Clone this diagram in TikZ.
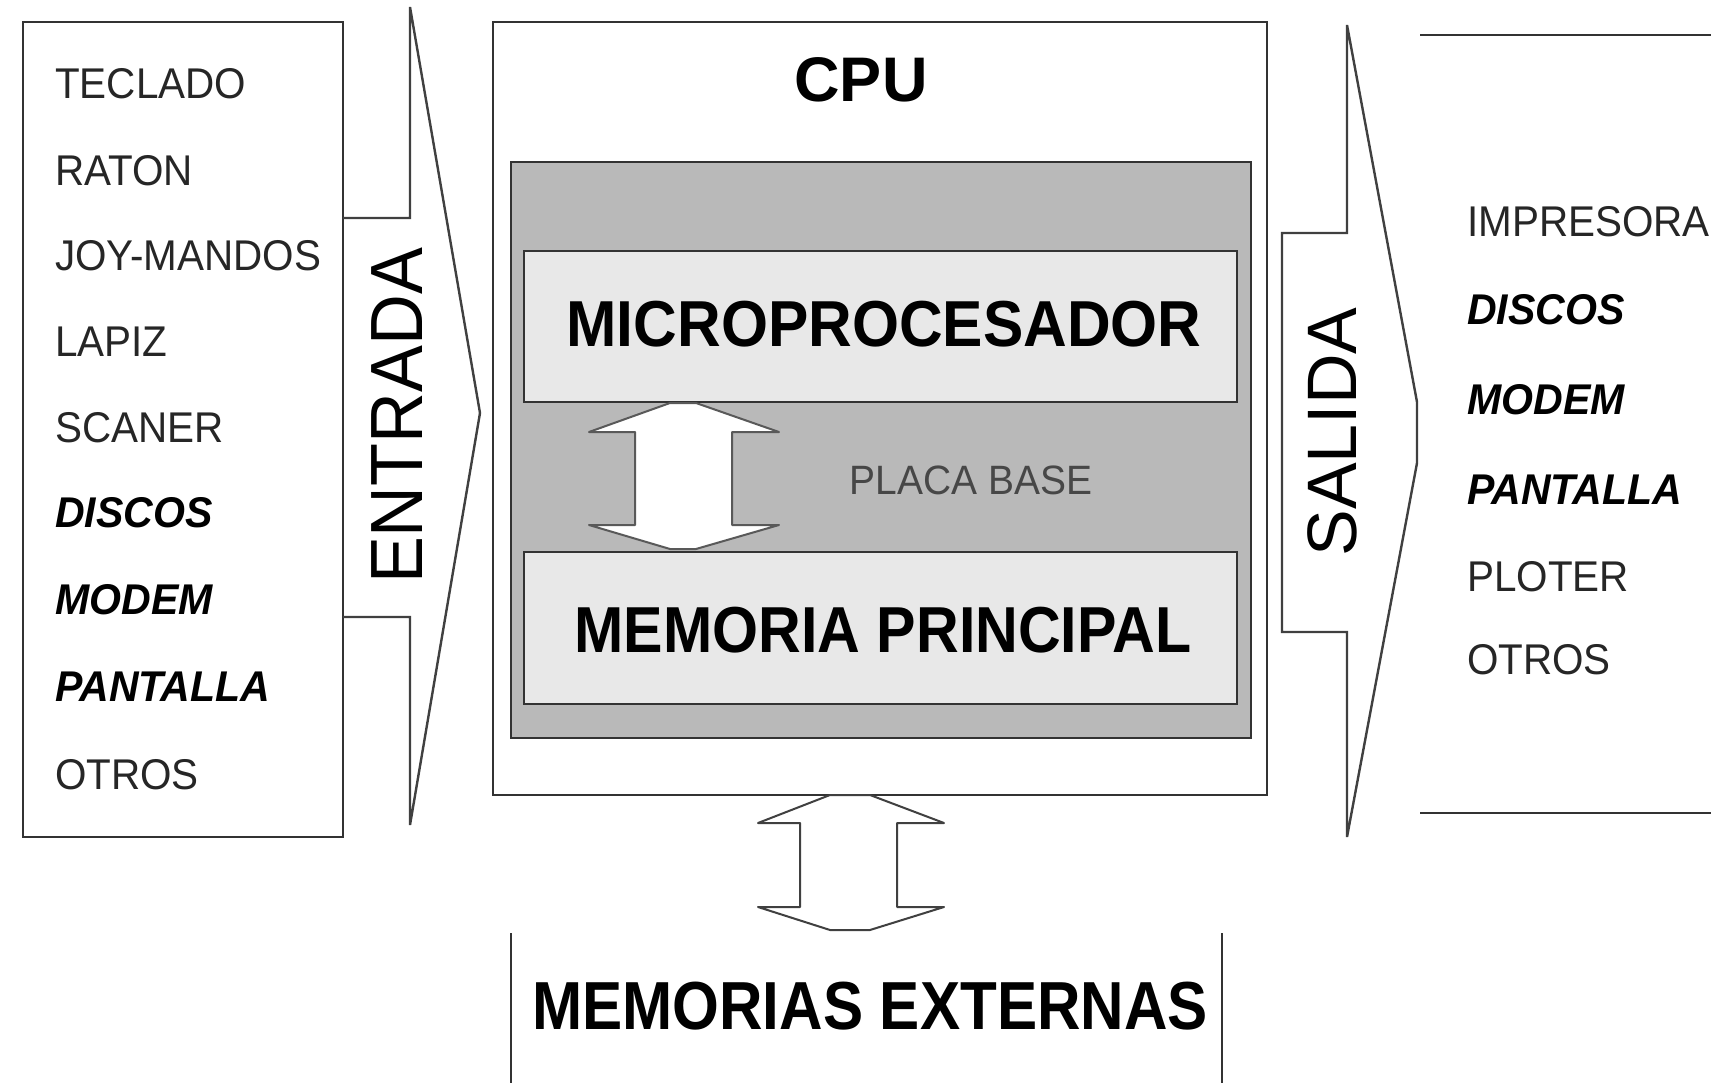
\documentclass[tikz,border=0pt]{standalone}
\usepackage{fontspec}
\setmainfont{Liberation Sans}
\newfontfamily\lst[FakeStretch=0.94]{Liberation Sans}
\newfontfamily\lstb[FakeStretch=0.955]{Liberation Sans}
\newfontfamily\ttl[FakeStretch=0.91]{Liberation Sans}
\newfontfamily\ext[FakeStretch=0.885]{Liberation Sans}
\newfontfamily\pb[FakeStretch=0.95]{Liberation Sans}
\begin{document}
\begin{tikzpicture}[x=1pt,y=-1pt,
  boxline/.style={draw=black!80, line width=2.6pt},
  rect/.style={boxline, anchor=north west, inner sep=0pt, outer sep=0pt},
  arr/.style={draw=black!75, line width=2.4pt},
  dbl/.style={draw=black!65, line width=2pt, fill=white, line join=round},
  item/.style={anchor=west, inner sep=0pt, text=black!85, font=\lst\fontsize{43}{45}\selectfont},
  itemb/.style={anchor=west, inner sep=0pt, text=black, font=\lstb\fontsize{43}{45}\selectfont\bfseries\itshape},
  title/.style={inner sep=0pt, text=black, font=\ttl\fontsize{65}{70}\selectfont\bfseries},
  side/.style={rotate=90, inner sep=0pt, text=black}]
\useasboundingbox (0,0) rectangle (1711,1083);
\fill[white] (0,0) rectangle (1711,1083);

% input box
\node[rect, minimum width=320pt, minimum height=815pt] (inbox) at (23,22) {};
\foreach \t/\yy/\n in {TECLADO/84/a,RATON/171/b,JOY-MANDOS/256/c,LAPIZ/342/d,SCANER/428/e,OTROS/775/i}
  \node[item] (in\n) at (55,\yy) {\t};
\foreach \t/\yy/\n in {DISCOS/513/f,MODEM/600/g,PANTALLA/687/h}
  \node[itemb] (in\n) at (55,\yy) {\t};

% entrada arrow
\draw[arr] (343,218) -- (410,218) -- (410,7) -- (480,413) -- (410,825) -- (410,617) -- (343,617);
\node[side, font=\pb\fontsize{74}{76}\selectfont] (entrada) at (397,416) {ENTRADA};

% CPU
\node[rect, minimum width=774pt, minimum height=773pt] (cpu) at (493,22) {};
\node[inner sep=0pt, font=\fontsize{63}{66}\selectfont\bfseries] (cputxt) at (861,80) {CPU};
\node[rect, fill={rgb,255:red,185;green,185;blue,185}, minimum width=740pt, minimum height=576pt] (placa) at (511,162) {};
\node[rect, fill={rgb,255:red,232;green,232;blue,232}, minimum width=713pt, minimum height=151pt] (micro) at (524,251) {};
\node[title, font=\fontsize{65}{70}\selectfont\bfseries\addfontfeature{FakeStretch=0.93}] (microtxt) at (884,324) {MICROPROCESADOR};
\node[rect, fill={rgb,255:red,232;green,232;blue,232}, minimum width=713pt, minimum height=152pt] (memp) at (524,552) {};
\node[title] (memptxt) at (883,630) {MEMORIA PRINCIPAL};
\node[inner sep=0pt, text=black!72, font=\pb\fontsize{41}{44}\selectfont] (placatxt) at (971,480) {PLACA BASE};

% inner double arrow
\draw[dbl] (670,403) -- (696,403) -- (779,432) -- (732,432) -- (732,525) -- (779,525) -- (696,549) -- (670,549) -- (589,525) -- (635,525) -- (635,432) -- (589,432) -- cycle;

% salida arrow
\draw[arr] (1282,233) -- (1347,233) -- (1347,25) -- (1417,402) -- (1417,463) -- (1347,837) -- (1347,632) -- (1282,632) -- cycle;
\node[side, font=\fontsize{70}{72}\selectfont] (salida) at (1332,432) {SALIDA};

% output list
\draw[boxline] (1420,35) -- (1711,35);
\draw[boxline] (1420,813) -- (1711,813);
\foreach \t/\yy/\n in {IMPRESORA/222/a,PLOTER/577/e,OTROS/660/f}
  \node[item] (out\n) at (1467,\yy) {\t};
\foreach \t/\yy/\n in {DISCOS/310/b,MODEM/400/c,PANTALLA/490/d}
  \node[itemb] (out\n) at (1467,\yy) {\t};

% bottom double arrow
\draw[draw=black!75, line width=2pt, line join=round] (830,795) -- (870,795) -- (944,823) -- (897,823) -- (897,907) -- (944,907) -- (870,930) -- (830,930) -- (758,907) -- (800,907) -- (800,823) -- (758,823) -- cycle;

% external memories
\draw[boxline] (511,933) -- (511,1083);
\draw[boxline] (1222,933) -- (1222,1083);
\node[inner sep=0pt, font=\ext\fontsize{68}{70}\selectfont\bfseries] (exttxt) at (870,1006) {MEMORIAS EXTERNAS};
\end{tikzpicture}
\end{document}
